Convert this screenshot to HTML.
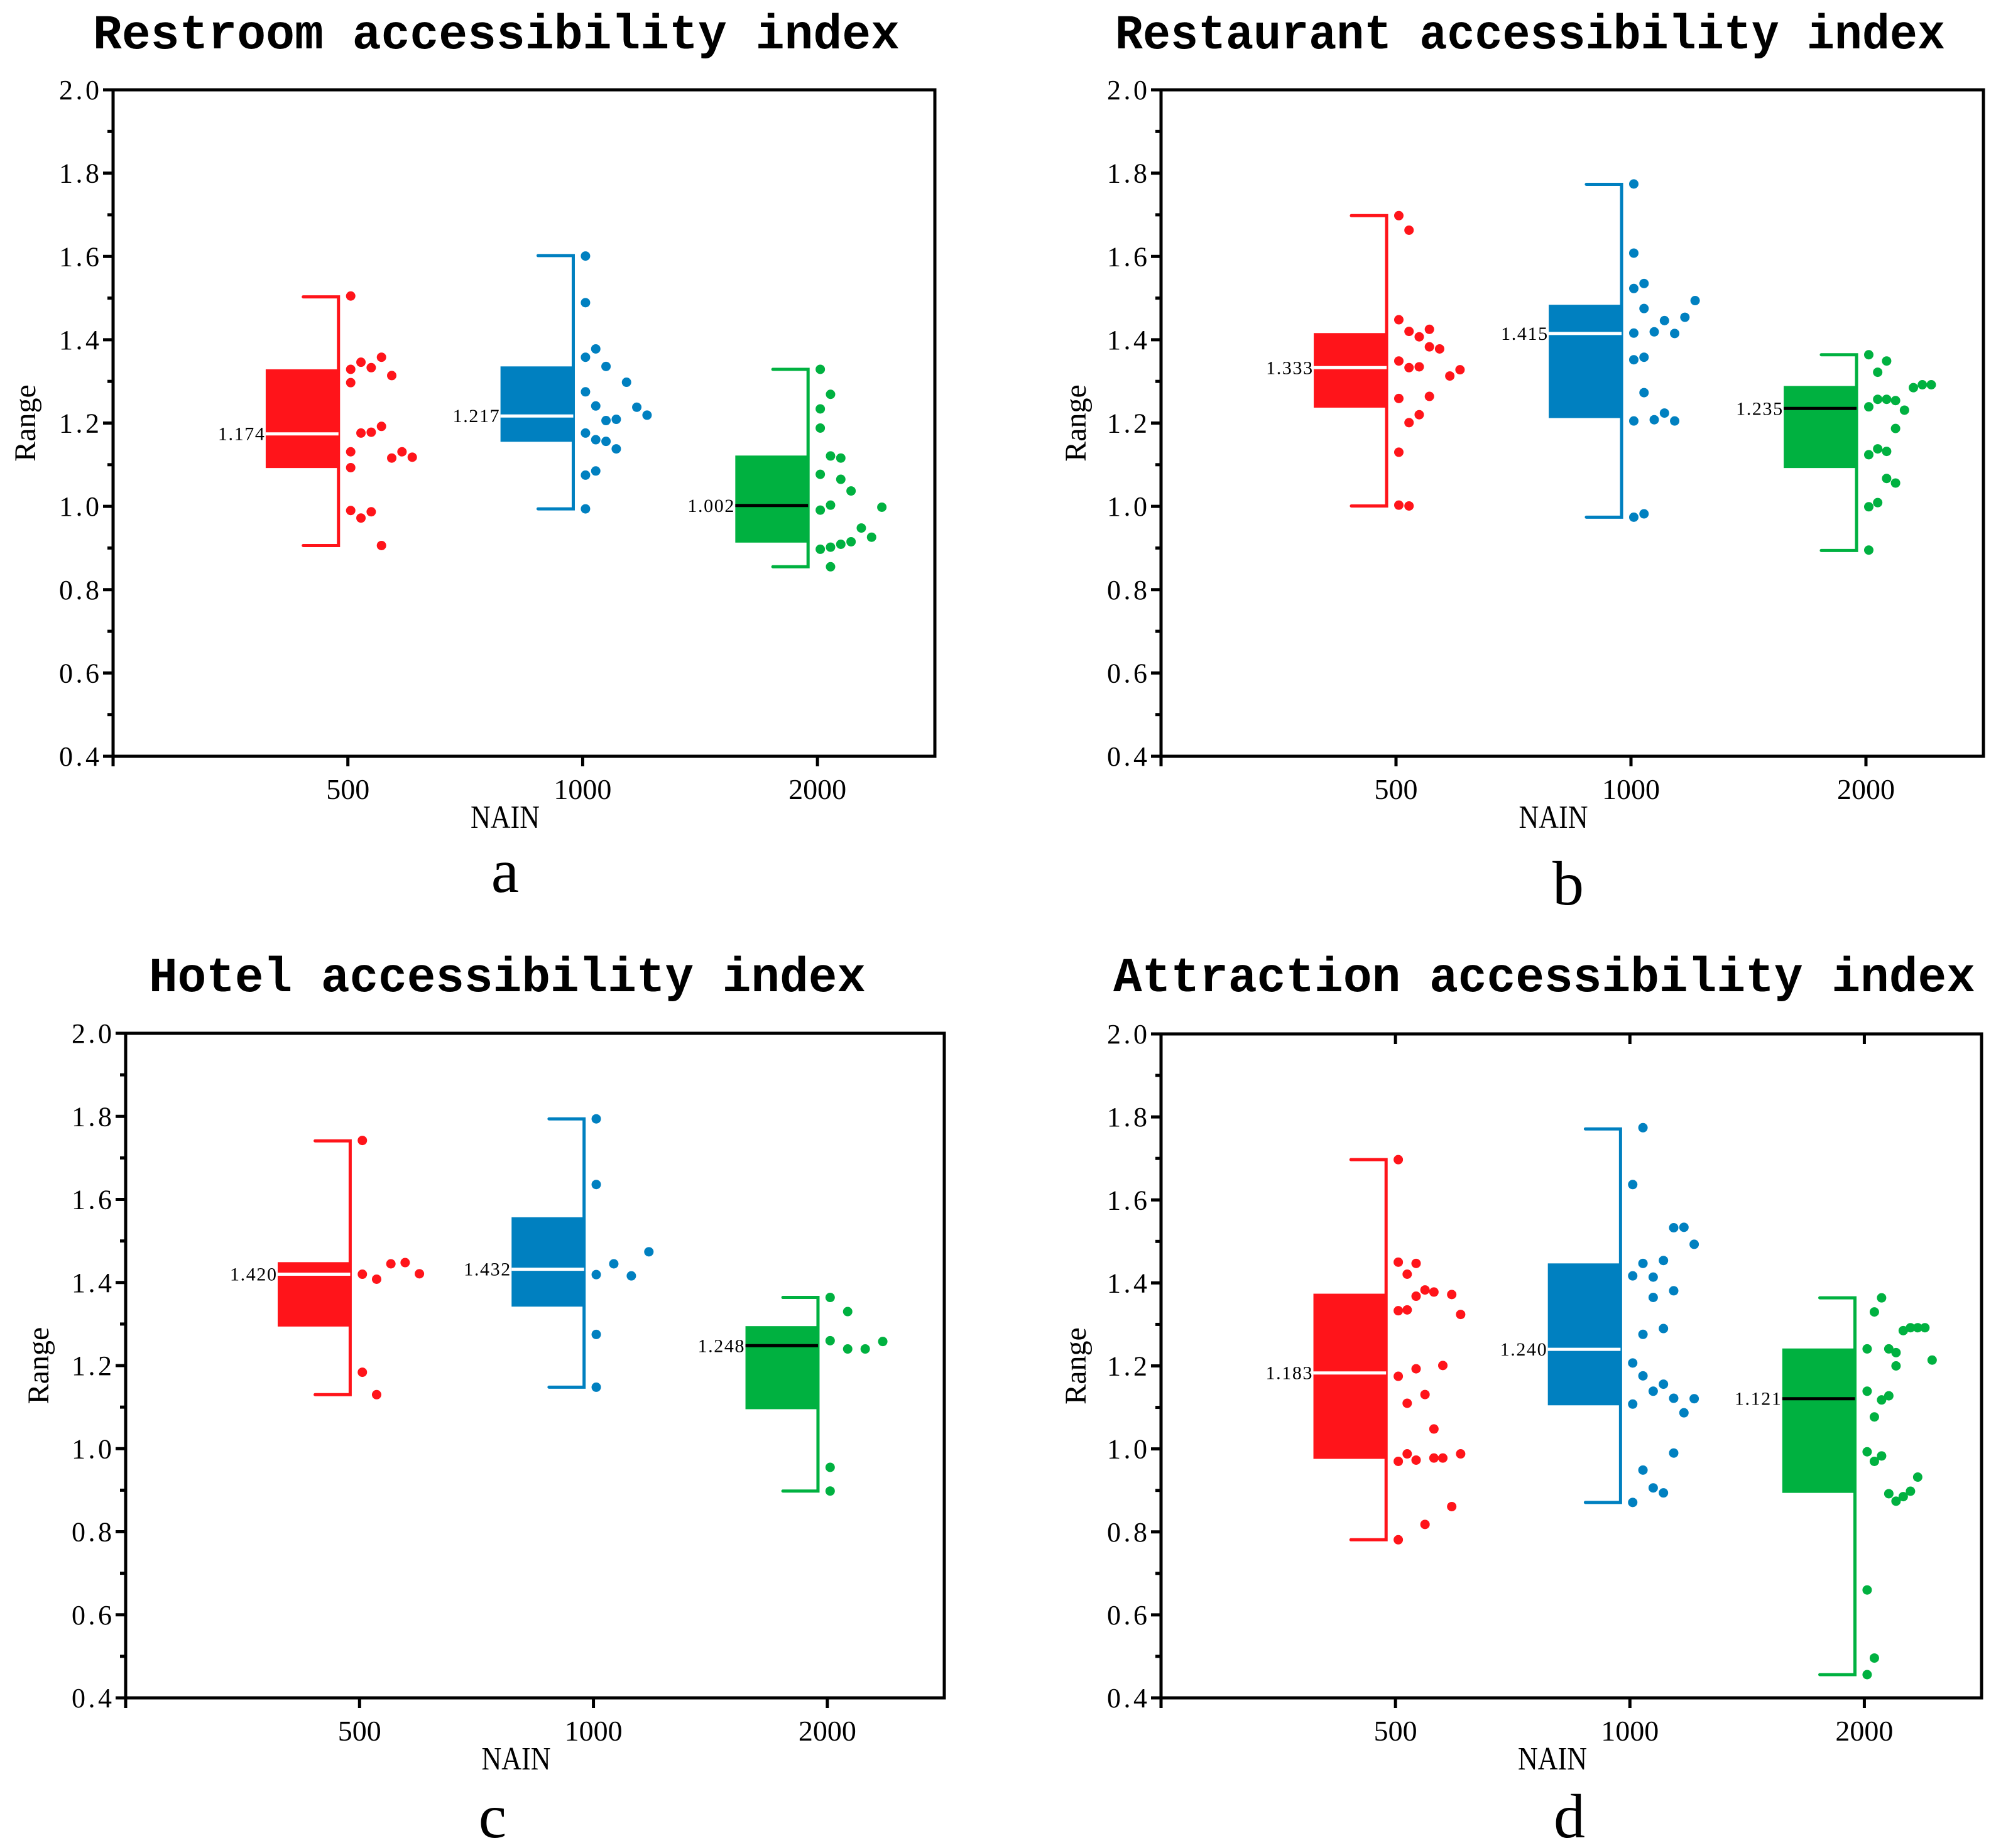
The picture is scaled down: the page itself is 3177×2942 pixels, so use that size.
<!DOCTYPE html>
<html><head><meta charset="utf-8">
<style>
html,body{margin:0;padding:0;background:#fff;}
svg{display:block;}
text{font-family:"Liberation Serif","Noto Serif CJK SC",serif;fill:#000;}
.mono{font-family:"Liberation Mono","Noto Sans CJK SC",monospace;}
</style></head>
<body>
<svg id="fig" width="3177" height="2942" viewBox="0 0 3177 2942" xmlns="http://www.w3.org/2000/svg"></svg>
<script>
// ---- data ----
const categories = ["500","1000","2000"];
const yTicks = ["0.4","0.6","0.8","1.0","1.2","1.4","1.6","1.8","2.0"];
const seriesNames = ["red","blue","green"];

const a_hi=[1.503,1.602,1.329], a_q3=[1.329,1.336,1.122], a_med=[1.174,1.217,1.002], a_q1=[1.092,1.155,0.913], a_lo=[0.906,0.994,0.855];
const b_hi=[1.698,1.773,1.364], b_q3=[1.416,1.484,1.289], b_med=[1.333,1.415,1.235], b_q1=[1.237,1.212,1.092], b_lo=[1.001,0.974,0.894];
const c_hi=[1.741,1.794,1.364], c_q3=[1.449,1.557,1.295], c_med=[1.420,1.432,1.248], c_q1=[1.294,1.342,1.095], c_lo=[1.130,1.148,0.898];
const d_hi=[1.697,1.771,1.364], d_q3=[1.374,1.447,1.242], d_med=[1.183,1.240,1.121], d_q1=[0.976,1.105,0.894], d_lo=[0.781,0.871,0.456];

const a_red_v=[1.505,1.329,1.297,1.346,1.333,1.358,1.314,1.176,1.178,1.192,1.131,1.093,1.116,1.131,1.118,0.990,0.972,0.987,0.906];
const a_red_k=[0,0,0,1,2,3,4,1,2,3,0,0,4,5,6,0,1,2,3];
const a_blue_v=[1.601,1.489,1.358,1.378,1.336,1.298,1.275,1.241,1.238,1.219,1.206,1.209,1.176,1.160,1.156,1.138,1.075,1.085,0.994];
const a_blue_k=[0,0,0,1,2,4,0,1,5,6,2,3,0,1,2,3,0,1,0];
const a_green_v=[1.329,1.269,1.234,1.188,1.121,1.116,1.077,1.065,1.037,0.991,1.003,0.998,0.948,0.926,0.897,0.902,0.909,0.915,0.855];
const a_green_k=[0,1,0,0,1,2,0,2,3,0,1,6,4,5,0,1,2,3,1];

const b_red_v=[1.698,1.663,1.448,1.420,1.425,1.407,1.383,1.378,1.349,1.333,1.335,1.328,1.313,1.259,1.264,1.220,1.201,1.130,1.003,1.001];
const b_red_k=[0,1,0,1,3,2,3,4,0,1,2,6,5,0,3,2,1,0,0,1];
const b_blue_v=[1.774,1.608,1.535,1.523,1.494,1.475,1.446,1.454,1.416,1.419,1.415,1.358,1.352,1.273,1.205,1.208,1.224,1.205,0.974,0.982];
const b_blue_k=[0,0,1,0,6,1,3,5,0,2,4,1,0,1,0,2,3,4,0,1];
const b_green_v=[1.364,1.349,1.322,1.285,1.292,1.292,1.257,1.257,1.254,1.239,1.231,1.187,1.124,1.138,1.132,1.067,1.056,0.999,1.009,0.895];
const b_green_k=[0,2,1,5,6,7,1,2,3,0,4,3,0,1,2,2,3,0,1,0];

const c_red_v=[1.742,1.420,1.408,1.445,1.448,1.421,1.184,1.130];
const c_red_k=[0,0,1,2,3,4,0,1];
const c_blue_v=[1.794,1.636,1.474,1.445,1.419,1.416,1.275,1.148];
const c_blue_k=[0,0,3,1,0,2,0,0];
const c_green_v=[1.364,1.330,1.260,1.240,1.240,1.258,0.955,0.898];
const c_green_k=[0,1,0,1,2,3,0,0];

const d_red_v=[1.697,1.450,1.447,1.421,1.383,1.378,1.372,1.368,1.335,1.333,1.324,1.175,1.193,1.201,1.131,1.110,1.048,0.988,0.970,0.973,0.978,0.978,0.988,0.861,0.818,0.781];
const d_red_k=[0,0,2,1,3,4,6,2,1,0,7,0,2,5,3,1,4,1,0,2,4,5,7,6,3,0];
const d_blue_v=[1.774,1.637,1.533,1.534,1.493,1.454,1.447,1.417,1.414,1.381,1.365,1.290,1.276,1.207,1.176,1.156,1.139,1.122,1.121,1.108,1.087,0.990,0.949,0.906,0.894,0.871];
const d_blue_k=[1,0,4,5,6,3,1,0,2,4,2,3,1,0,1,3,2,4,6,0,5,4,1,2,3,0];
const d_green_v=[1.364,1.330,1.285,1.292,1.292,1.292,1.241,1.241,1.232,1.214,1.200,1.139,1.128,1.118,1.077,0.993,0.983,0.970,0.932,0.892,0.898,0.885,0.874,0.660,0.496,0.456];
const d_green_k=[2,1,5,6,7,8,0,3,4,9,4,0,3,2,1,0,2,1,7,3,6,5,4,0,1,0];

// ---- layout ----
const colors=["#ff141a","#0080c0","#00b140"];
const medColors=["#ffffff","#ffffff","#000000"];
const panels=[
 {id:"a",title:"Restroom accessibility index",L:180,R:1488,T:143,B:1204,tx:[148,1432],ty:77,ylx:40,lx:804,ly:1420,
  hi:a_hi,q3:a_q3,med:a_med,q1:a_q1,lo:a_lo,pv:[a_red_v,a_blue_v,a_green_v],pk:[a_red_k,a_blue_k,a_green_k],step:[0.0437,0.0437,0.0437],topTicks:false},
 {id:"b",title:"Restaurant accessibility index",L:1848,R:3157,T:143,B:1204,tx:[1775,3096],ty:77,ylx:1712,lx:2496,ly:1440,
  hi:b_hi,q3:b_q3,med:b_med,q1:b_q1,lo:b_lo,pv:[b_red_v,b_blue_v,b_green_v],pk:[b_red_k,b_blue_k,b_green_k],step:[0.0434,0.0435,0.038],topTicks:false},
 {id:"c",title:"Hotel accessibility index",L:200,R:1503,T:1645,B:2703,tx:[237,1378],ty:1578,ylx:61,lx:784,ly:2925,
  hi:c_hi,q3:c_q3,med:c_med,q1:c_q1,lo:c_lo,pv:[c_red_v,c_blue_v,c_green_v],pk:[c_red_k,c_blue_k,c_green_k],step:[0.061,0.075,0.075],topTicks:false},
 {id:"d",title:"Attraction accessibility index",L:1848,R:3154,T:1646,B:2703,tx:[1772,3144],ty:1578,ylx:1712,lx:2498,ly:2925,
  hi:d_hi,q3:d_q3,med:d_med,q1:d_q1,lo:d_lo,pv:[d_red_v,d_blue_v,d_green_v],pk:[d_red_k,d_blue_k,d_green_k],step:[0.038,0.0437,0.0308],topTicks:true}
];

const NS="http://www.w3.org/2000/svg";
const svg=document.getElementById("fig");
function mk(tag,attrs,parent){const e=document.createElementNS(NS,tag);for(const k in attrs)e.setAttribute(k,attrs[k]);(parent||svg).appendChild(e);return e;}

panels.forEach(p=>{
  const g=mk("g",{});
  
  
  const xs=u=>p.L+(p.R-p.L)*u/3.5;
  const ys=v=>p.B-(p.B-p.T)*(v-0.4)/1.6;

  const t=mk("text",{x:p.tx[0],y:p.ty,"font-size":78,"font-weight":"bold",textLength:p.tx[1]-p.tx[0],lengthAdjust:"spacingAndGlyphs",class:"mono"},g);
  t.textContent=p.title;
  
  

  const fr=mk("rect",{x:p.L,y:p.T,width:p.R-p.L,height:p.B-p.T,fill:"none",stroke:"#000","stroke-width":5},g);
  
  

  for(let i=0;i<=16;i++){
    const v=0.4+i*0.1, y=ys(v), major=i%2===0;
    const tk=mk("line",{x1:p.L-(major?16:9),x2:p.L,y1:y,y2:y,stroke:"#000","stroke-width":5},g);
    
    
  }
  yTicks.forEach((lab,i)=>{
    const y=ys(parseFloat(lab));
    const tl=mk("text",{x:p.L-22,y:y+15,"font-size":44,"text-anchor":"end",textLength:64,lengthAdjust:"spacing"},g);
    tl.textContent=lab;
    
    
  });
  [0,1,2,3].forEach(i=>{
    const x=xs(i);
    const tk=mk("line",{x1:x,x2:x,y1:p.B,y2:p.B+16,stroke:"#000","stroke-width":5},g);
    
    
    if(p.topTicks&&i>0){
      const tt=mk("line",{x1:x,x2:x,y1:p.T,y2:p.T+16,stroke:"#000","stroke-width":5},g);
      
      
    }
  });
  categories.forEach((c,i)=>{
    const tl=mk("text",{x:xs(i+1),y:p.B+68,"font-size":46,"text-anchor":"middle"},g);
    tl.textContent=c;
    
    
  });
  const xl=mk("text",{x:xs(1.75)-30,y:p.B+114,"font-size":52,"text-anchor":"middle",textLength:110,lengthAdjust:"spacingAndGlyphs"},g);
  xl.textContent="NAIN";
  
  
  const cy=(p.T+p.B)/2;
  const yl=mk("text",{x:p.ylx,y:cy,"font-size":48,"text-anchor":"middle",transform:`rotate(-90 ${p.ylx} ${cy})`,dy:"16"},g);
  yl.textContent="Range";
  
  
  const pl=mk("text",{x:p.lx,y:p.ly,"font-size":100,"text-anchor":"middle"},g);
  pl.textContent=p.id;
  
  

  for(let s=0;s<3;s++){
    const c=s+1, col=colors[s];
    const sg=mk("g",{},g);
    
    
    const bx0=xs(c-0.35), bx1=xs(c-0.04), wx=xs(c-0.04), cx0=xs(c-0.19);
    const wh=mk("path",{d:`M${cx0} ${ys(p.hi[s])}H${wx}V${ys(p.lo[s])}H${cx0}`,fill:"none",stroke:col,"stroke-width":5,"stroke-linecap":"round"},sg);
    
    
    const bx=mk("rect",{x:bx0,y:ys(p.q3[s]),width:bx1-bx0,height:ys(p.q1[s])-ys(p.q3[s]),fill:col},sg);
    
    
    const md=mk("line",{x1:bx0,x2:bx1,y1:ys(p.med[s]),y2:ys(p.med[s]),stroke:medColors[s],"stroke-width":5},sg);
    
    
    const ml=mk("text",{x:bx0-2,y:ys(p.med[s])+10,"font-size":30,"text-anchor":"end",textLength:74,lengthAdjust:"spacing"},sg);
    ml.textContent=p.med[s].toFixed(3);
    
    
    const vals=p.pv[s], ks=p.pk[s];
    vals.forEach((v,i)=>{
      const pt=mk("circle",{cx:xs(c+0.012+ks[i]*p.step[s]),cy:ys(v),r:7.5,fill:col},sg);
      
      
    });
  }
});
</script>
</body></html>
